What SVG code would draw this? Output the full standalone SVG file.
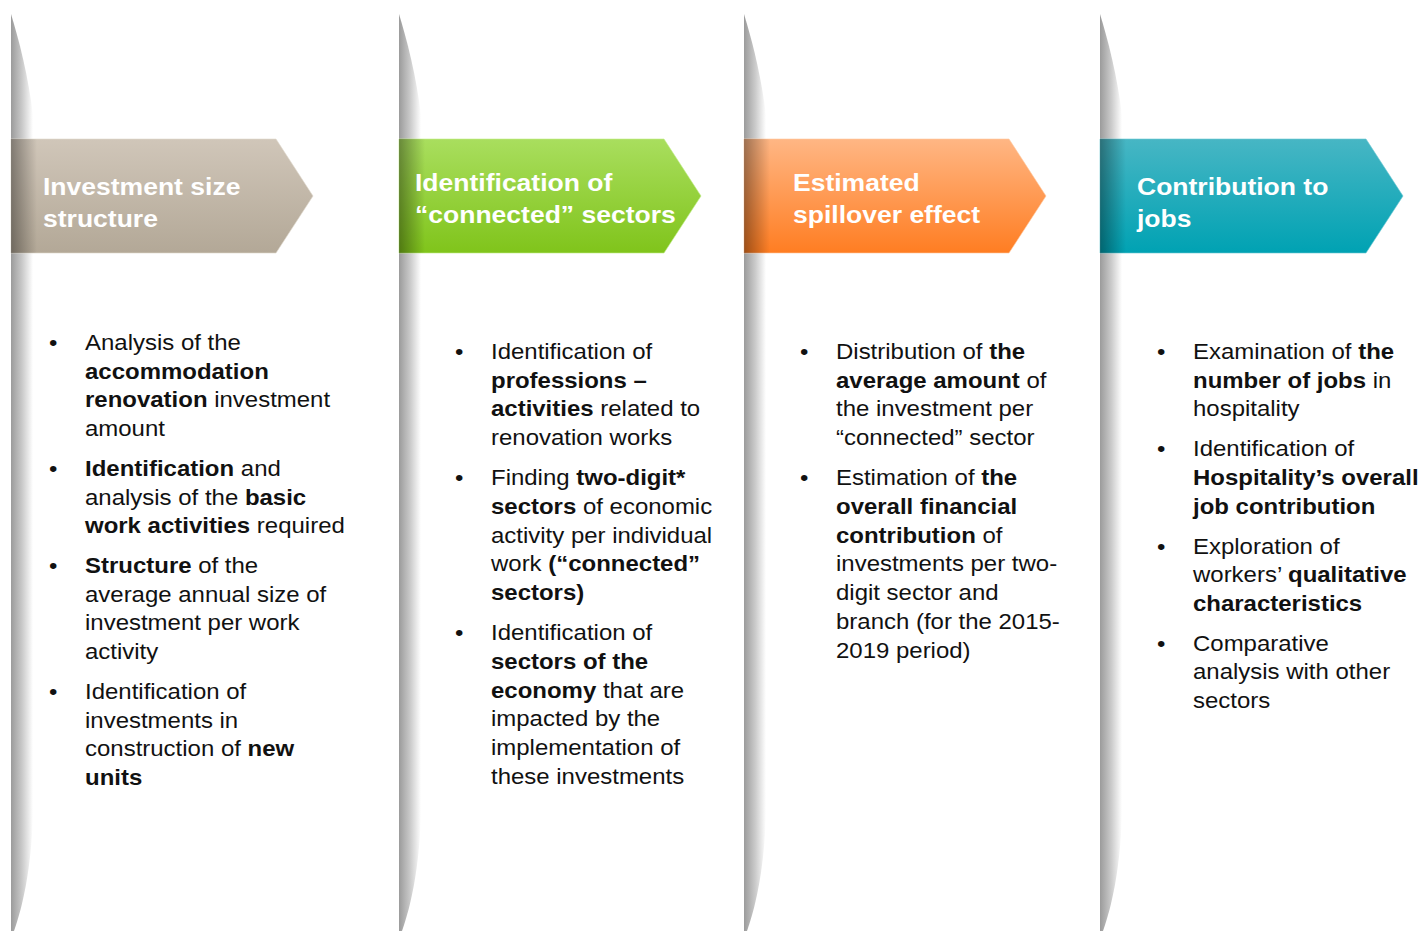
<svg xmlns="http://www.w3.org/2000/svg" width="1424" height="931" viewBox="0 0 1424 931">
  <defs>
    <linearGradient id="rail" x1="0" y1="0" x2="1" y2="0">
      <stop offset="0" stop-color="#9b9b9b"/>
      <stop offset="0.5" stop-color="#c9c9c9"/>
      <stop offset="1" stop-color="#ffffff"/>
    </linearGradient>
    <linearGradient id="fold" x1="0" y1="0" x2="1" y2="0">
      <stop offset="0" stop-color="#000" stop-opacity="0.38"/>
      <stop offset="1" stop-color="#000" stop-opacity="0"/>
    </linearGradient>
    <linearGradient id="gTan" x1="0" y1="0" x2="0" y2="1">
      <stop offset="0" stop-color="#d0c6b9"/>
      <stop offset="1" stop-color="#b3a897"/>
    </linearGradient>
    <linearGradient id="gGreen" x1="0" y1="0" x2="0" y2="1">
      <stop offset="0" stop-color="#a9de5e"/>
      <stop offset="1" stop-color="#80c41b"/>
    </linearGradient>
    <linearGradient id="gOrange" x1="0" y1="0" x2="0" y2="1">
      <stop offset="0" stop-color="#ffb684"/>
      <stop offset="1" stop-color="#ff7d22"/>
    </linearGradient>
    <linearGradient id="gTeal" x1="0" y1="0" x2="0" y2="1">
      <stop offset="0" stop-color="#47b6c4"/>
      <stop offset="1" stop-color="#00a2b3"/>
    </linearGradient>
    <!-- curved grey rail on the left of each column -->
    <path id="railShape" d="M0,14 C8,40 17,75 22,115 L22,815 C20,870 12,905 3,931 L0,931 Z"/>
  </defs>
  <style>
    .hd { font-family: "Liberation Sans", Arial, sans-serif; font-size: 24px; font-weight: bold; fill: #ffffff; }
    .bd { font-family: "Liberation Sans", Arial, sans-serif; font-size: 22px; fill: #111111; }
    .b { font-weight: bold; }
    .edge { stroke-width: 1; stroke-opacity: 0.6; }
  </style>

  <rect width="1424" height="931" fill="#ffffff"/>

  <!-- Column 1 -->
  <g id="col1">
    <use href="#railShape" x="11" fill="url(#rail)"/>
    <g id="head1">
      <polygon points="11,139 276,139 313,196 276,253 11,253" fill="url(#gTan)" stroke="#e0d8cd" class="edge"/>
      <rect x="11" y="139" width="26" height="114" fill="url(#fold)"/>
      <g class="hd" transform="matrix(1.105,0,0,1,-4.515,0)">
        <text x="43" y="195">Investment size</text>
        <text x="43" y="227">structure</text>
      </g>
    </g>
    <g id="body1" class="bd" transform="matrix(1.09,0,0,1,-7.65,0)">
      <text x="52" y="350">•</text>
      <text x="85" y="350">Analysis of the</text>
      <text x="85" y="379" class="b">accommodation</text>
      <text x="85" y="407"><tspan class="b">renovation</tspan> investment</text>
      <text x="85" y="436">amount</text>
      <text x="52" y="476">•</text>
      <text x="85" y="476"><tspan class="b">Identification</tspan> and</text>
      <text x="85" y="505">analysis of the <tspan class="b">basic</tspan></text>
      <text x="85" y="533"><tspan class="b">work activities</tspan> required</text>
      <text x="52" y="573">•</text>
      <text x="85" y="573"><tspan class="b">Structure</tspan> of the</text>
      <text x="85" y="602">average annual size of</text>
      <text x="85" y="630">investment per work</text>
      <text x="85" y="659">activity</text>
      <text x="52" y="699">•</text>
      <text x="85" y="699">Identification of</text>
      <text x="85" y="728">investments in</text>
      <text x="85" y="756">construction of <tspan class="b">new</tspan></text>
      <text x="85" y="785" class="b">units</text>
    </g>
  </g>

  <!-- Column 2 -->
  <g id="col2">
    <use href="#railShape" x="399" fill="url(#rail)"/>
    <g id="head2">
      <polygon points="399,139 664,139 701,196 664,253 399,253" fill="url(#gGreen)" stroke="#c2ec8a" class="edge"/>
      <rect x="399" y="139" width="26" height="114" fill="url(#fold)"/>
      <g class="hd" transform="matrix(1.105,0,0,1,-43.575,0)">
        <text x="415" y="191">Identification of</text>
        <text x="415" y="223">“connected” sectors</text>
      </g>
    </g>
    <g id="body2" class="bd" transform="matrix(1.09,0,0,1,-44.19,0)">
      <text x="458" y="359">•</text>
      <text x="491" y="359">Identification of</text>
      <text x="491" y="388" class="b">professions –</text>
      <text x="491" y="416"><tspan class="b">activities</tspan> related to</text>
      <text x="491" y="445">renovation works</text>
      <text x="458" y="485">•</text>
      <text x="491" y="485">Finding <tspan class="b">two-digit*</tspan></text>
      <text x="491" y="514"><tspan class="b">sectors</tspan> of economic</text>
      <text x="491" y="543">activity per individual</text>
      <text x="491" y="571">work <tspan class="b">(“connected”</tspan></text>
      <text x="491" y="600" class="b">sectors)</text>
      <text x="458" y="640">•</text>
      <text x="491" y="640">Identification of</text>
      <text x="491" y="669" class="b">sectors of the</text>
      <text x="491" y="698"><tspan class="b">economy</tspan> that are</text>
      <text x="491" y="726">impacted by the</text>
      <text x="491" y="755">implementation of</text>
      <text x="491" y="784">these investments</text>
    </g>
  </g>

  <!-- Column 3 -->
  <g id="col3">
    <use href="#railShape" x="744" fill="url(#rail)"/>
    <g id="head3">
      <polygon points="744,139 1009,139 1046,196 1009,253 744,253" fill="url(#gOrange)" stroke="#ffc9a0" class="edge"/>
      <rect x="744" y="139" width="26" height="114" fill="url(#fold)"/>
      <g class="hd" transform="matrix(1.105,0,0,1,-83.265,0)">
        <text x="793" y="191">Estimated</text>
        <text x="793" y="223">spillover effect</text>
      </g>
    </g>
    <g id="body3" class="bd" transform="matrix(1.09,0,0,1,-75.24,0)">
      <text x="803" y="359">•</text>
      <text x="836" y="359">Distribution of <tspan class="b">the</tspan></text>
      <text x="836" y="388"><tspan class="b">average amount</tspan> of</text>
      <text x="836" y="416">the investment per</text>
      <text x="836" y="445">“connected” sector</text>
      <text x="803" y="485">•</text>
      <text x="836" y="485">Estimation of <tspan class="b">the</tspan></text>
      <text x="836" y="514" class="b">overall financial</text>
      <text x="836" y="543"><tspan class="b">contribution</tspan> of</text>
      <text x="836" y="571">investments per two-</text>
      <text x="836" y="600">digit sector and</text>
      <text x="836" y="629">branch (for the 2015-</text>
      <text x="836" y="658">2019 period)</text>
    </g>
  </g>

  <!-- Column 4 -->
  <g id="col4">
    <use href="#railShape" x="1100" fill="url(#rail)"/>
    <g id="head4">
      <polygon points="1100,139 1366,139 1403,196 1366,253 1100,253" fill="url(#gTeal)" stroke="#6cc8d3" class="edge"/>
      <rect x="1100" y="139" width="26" height="114" fill="url(#fold)"/>
      <g class="hd" transform="matrix(1.105,0,0,1,-119.385,0)">
        <text x="1137" y="195">Contribution to</text>
        <text x="1137" y="227">jobs</text>
      </g>
    </g>
    <g id="body4" class="bd" transform="matrix(1.09,0,0,1,-107.37,0)">
      <text x="1160" y="359">•</text>
      <text x="1193" y="359">Examination of <tspan class="b">the</tspan></text>
      <text x="1193" y="388"><tspan class="b">number of jobs</tspan> in</text>
      <text x="1193" y="416">hospitality</text>
      <text x="1160" y="456">•</text>
      <text x="1193" y="456">Identification of</text>
      <text x="1193" y="485" class="b">Hospitality’s overall</text>
      <text x="1193" y="514" class="b">job contribution</text>
      <text x="1160" y="554">•</text>
      <text x="1193" y="554">Exploration of</text>
      <text x="1193" y="582">workers’ <tspan class="b">qualitative</tspan></text>
      <text x="1193" y="611" class="b">characteristics</text>
      <text x="1160" y="651">•</text>
      <text x="1193" y="651">Comparative</text>
      <text x="1193" y="679">analysis with other</text>
      <text x="1193" y="708">sectors</text>
    </g>
  </g>

  <!-- no connectors between the stages -->
  <g id="connectors"/>
</svg>
